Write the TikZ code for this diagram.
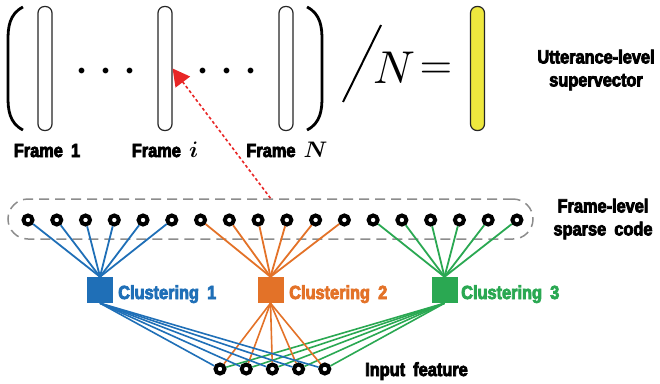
\documentclass[tikz,border=0pt]{standalone}
\usepackage{fontspec}
\newfontfamily\lblfont{Liberation Sans}[FakeStretch=0.86,FakeBold=4,WordSpace=1.8]
\usetikzlibrary{arrows.meta}

\definecolor{clblue}{RGB}{31,111,183}
\definecolor{clorange}{RGB}{227,114,40}
\definecolor{clgreen}{RGB}{42,168,82}
\definecolor{svyellow}{RGB}{238,232,62}
\definecolor{arrowred}{RGB}{232,38,38}

\tikzset{
    bar/.style={draw=black!85, line width=1.2pt, fill=white, rounded corners=6.5pt,
                minimum width=14pt, minimum height=124pt, inner sep=0pt},
    lbl/.style={font=\lblfont\bfseries\fontsize{19}{23}\selectfont, align=center, inner sep=0pt},
    unit/.style={circle, draw=black, fill=white, line width=4pt, minimum size=9pt, inner sep=0pt},
    cbox/.style={minimum size=26pt, inner sep=0pt},
    link/.style={line width=1.8pt},
    redarrow/.style={draw=arrowred, line width=1.6pt, dash pattern=on 3pt off 2.5pt,
                     -{Triangle[length=17pt, width=18pt]}}
}
\newcommand{\mvar}[1]{\scalebox{1.3}{$\boldsymbol{#1}$}}
\providecommand{\boldsymbol}[1]{\mathbf{#1}}
\renewcommand{\boldsymbol}[1]{\mbox{\boldmath$#1$}}

\begin{document}
\begin{tikzpicture}[x=1pt, y=-1pt]
    \useasboundingbox (0,0) rectangle (660,383);
    % frames and supervector
    \node[bar] (f1) at (45,68.5) {};
    \node[bar] (fi) at (165,68.5) {};
    \node[bar] (fN) at (286,68.5) {};
    \node[bar, fill=svyellow] (sv) at (477.5,68.5) {};
    \node[anchor=base, scale=5.4] (dotsA) at (106,84.5) {$\cdots$};
    \node[anchor=base, scale=5.4] (dotsB) at (227,84.5) {$\cdots$};
    \draw[line width=2.8pt] (23,7) .. controls (9,14) and (8,28) .. (8,40) -- (8,97)
        .. controls (8,109) and (9,123) .. (23,130);
    \draw[line width=2.8pt] (307,7) .. controls (321,14) and (322,28) .. (322,40) -- (322,97)
        .. controls (322,109) and (321,123) .. (307,130);
    \draw[line width=2pt] (343,102) -- (381,25);
    \node[anchor=base, scale=4.6] (den) at (394,83) {$N$};
    \node[anchor=base, scale=4.2] (eq) at (436,78) {$=$};
    \node[lbl, anchor=base] (l1) at (47,157) {Frame 1};
    \node[lbl, anchor=base] (li) at (165,157) {Frame \mvar{i}};
    \node[lbl, anchor=base] (lN) at (287,157) {Frame \mvar{N}};
    \node[lbl] (utt) at (596,70) {Utterance-level\\supervector};

    % frame-level sparse code
    \node[draw=black!45, line width=1.5pt, dash pattern=on 10pt off 6pt, rounded corners=20pt,
          minimum width=525pt, minimum height=40pt] (code) at (270.5,219) {};
    \foreach \k in {1,...,18}
        \node[unit] (s\k) at ({28+28.76*(\k-1)},220) {};
    \node[lbl] (fl) at (603,219) {Frame-level\\sparse code};

    % clusters
    \node[cbox, fill=clblue] (c1) at (100,290) {};
    \node[cbox, fill=clorange] (c2) at (270.5,290) {};
    \node[cbox, fill=clgreen] (c3) at (444.5,290) {};
    \node[lbl, text=clblue, anchor=base west] (k1) at (118,299) {Clustering 1};
    \node[lbl, text=clorange, anchor=base west] (k2) at (289,299) {Clustering 2};
    \node[lbl, text=clgreen, anchor=base west] (k3) at (461,299) {Clustering 3};

    % input feature
    \foreach \j in {1,...,5}
        \node[unit] (x\j) at ({220+26.2*(\j-1)},369) {};
    \node[lbl, anchor=base west] (inp) at (365,376) {Input feature};

    \foreach \k in {1,...,6} \draw[link, clblue] (s\k) -- (c1.north);
    \foreach \k in {7,...,12} \draw[link, clorange] (s\k) -- (c2.north);
    \foreach \k in {13,...,18} \draw[link, clgreen] (s\k) -- (c3.north);
    \foreach \j in {1,...,5} {
        \draw[link, line width=1.6pt, clblue] (c1.south) -- (x\j);
        \draw[link, line width=1.6pt, clorange] (c2.south) -- (x\j);
        \draw[link, line width=1.6pt, clgreen] (c3.south) -- (x\j);
    }

    \draw[redarrow] (code.north) -- (fi.east);
\end{tikzpicture}
\end{document}
